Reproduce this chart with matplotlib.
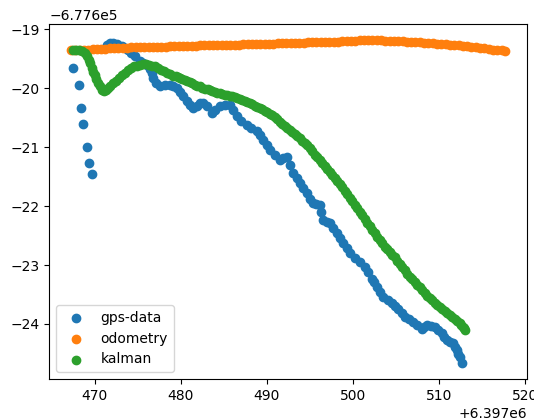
import numpy as np
import matplotlib
matplotlib.use('Agg')
import matplotlib.pyplot as plt

# 坐标偏移 (UTM)
X_OFFSET = 6397000.0
Y_OFFSET = -677600.0

# gps 数据
gps_x = [467.50, 468.20, 468.36, 468.66, 469.09, 469.29, 469.71,
         471.38, 471.77, 472.15, 472.58, 473.12, 473.51, 473.86, 474.20, 474.67, 475.25,
         475.60, 476.03, 476.41, 476.64, 476.79, 477.11, 477.57, 478.15, 478.73, 479.14,
         479.51, 479.90, 480.28, 480.67, 481.06, 481.44, 481.87, 482.22, 482.60, 483.03,
         483.58, 483.96, 484.54, 485.12, 485.70, 486.09, 486.48, 486.98, 487.64, 488.14,
         488.80, 489.19, 489.57, 489.96, 490.35, 490.93, 491.51, 491.89, 492.29, 492.67,
         493.05, 493.45, 493.83, 494.22, 494.61, 494.99, 495.38, 495.69, 496.16, 496.27,
         496.54, 496.93, 497.32, 497.70, 498.09, 498.48, 498.86, 499.26, 499.64, 500.22,
         500.80, 501.38, 501.76, 502.16, 502.43, 502.74, 503.12, 503.51, 504.00, 504.48,
         504.87, 505.25, 505.64, 506.03, 506.49, 506.99, 507.48, 507.97, 508.23, 508.55,
         509.05, 509.51, 509.89, 510.29, 510.56, 510.87, 511.25, 511.64, 511.83, 512.03,
         512.22, 512.41, 512.65]
gps_y = [-19.66, -19.94, -20.33, -20.61, -20.99, -21.27, -21.45,
         -19.26, -19.24, -19.23, -19.25, -19.29, -19.32, -19.35, -19.40, -19.46, -19.54,
         -19.57, -19.60, -19.67, -19.75, -19.82, -19.91, -19.97, -19.95, -19.94, -19.97,
         -20.00, -20.06, -20.14, -20.21, -20.28, -20.34, -20.30, -20.26, -20.25, -20.31,
         -20.42, -20.37, -20.31, -20.29, -20.28, -20.37, -20.48, -20.55, -20.62, -20.67,
         -20.73, -20.79, -20.88, -20.96, -21.05, -21.13, -21.22, -21.18, -21.16, -21.30,
         -21.44, -21.52, -21.61, -21.69, -21.78, -21.88, -21.95, -21.96, -21.98, -22.10,
         -22.24, -22.27, -22.29, -22.37, -22.46, -22.54, -22.63, -22.71, -22.80, -22.88,
         -22.95, -23.03, -23.12, -23.23, -23.29, -23.37, -23.45, -23.54, -23.60, -23.65,
         -23.70, -23.74, -23.81, -23.88, -23.92, -23.97, -24.02, -24.08, -24.05, -24.02,
         -24.04, -24.05, -24.11, -24.16, -24.22, -24.28, -24.30, -24.33, -24.39, -24.45,
         -24.51, -24.56, -24.66]

# 里程计
odom_x = [467.25, 467.75, 468.25, 468.75, 469.25, 469.75, 470.25, 470.75, 471.25, 471.75,
          472.25, 472.75, 473.25, 473.75, 474.25, 474.75, 475.25, 475.75, 476.25, 476.75,
          477.25, 477.75, 478.25, 478.75, 479.25, 479.75, 480.25, 480.75, 481.25, 481.75,
          482.25, 482.75, 483.25, 483.75, 484.25, 484.75, 485.25, 485.75, 486.25, 486.75,
          487.25, 487.75, 488.25, 488.75, 489.25, 489.75, 490.25, 490.75, 491.25, 491.75,
          492.25, 492.75, 493.25, 493.75, 494.25, 494.75, 495.25, 495.75, 496.25, 496.75,
          497.25, 497.75, 498.25, 498.75, 499.25, 499.75, 500.25, 500.75, 501.25, 501.75,
          502.25, 502.75, 503.25, 503.75, 504.25, 504.75, 505.25, 505.75, 506.25, 506.75,
          507.25, 507.75, 508.25, 508.75, 509.25, 509.75, 510.25, 510.75, 511.25, 511.75,
          512.25, 512.75, 513.25, 513.75, 514.25, 514.75, 515.25, 515.75, 516.25, 516.75,
          517.25, 517.64]
odom_y = [-19.360, -19.360, -19.355, -19.350, -19.345, -19.340, -19.335, -19.330, -19.330, -19.325,
          -19.320, -19.320, -19.315, -19.315, -19.310, -19.310, -19.305, -19.305, -19.300, -19.300,
          -19.300, -19.295, -19.295, -19.290, -19.290, -19.285, -19.285, -19.280, -19.280, -19.280,
          -19.275, -19.275, -19.270, -19.270, -19.270, -19.265, -19.265, -19.260, -19.260, -19.260,
          -19.255, -19.255, -19.250, -19.250, -19.250, -19.245, -19.245, -19.245, -19.240, -19.240,
          -19.240, -19.235, -19.235, -19.230, -19.230, -19.225, -19.225, -19.220, -19.220, -19.215,
          -19.215, -19.210, -19.210, -19.205, -19.200, -19.200, -19.195, -19.190, -19.190, -19.190,
          -19.190, -19.190, -19.190, -19.195, -19.195, -19.200, -19.200, -19.205, -19.210, -19.215,
          -19.220, -19.225, -19.230, -19.235, -19.240, -19.245, -19.250, -19.255, -19.260, -19.270,
          -19.275, -19.285, -19.290, -19.300, -19.310, -19.320, -19.325, -19.335, -19.345, -19.355,
          -19.360, -19.370]

# 卡尔曼滤波
kalman_x = [467.47, 467.82, 468.16, 468.51, 468.86, 469.09, 469.32, 469.50, 469.67, 469.85,
            470.02, 470.20, 470.37, 470.60, 470.84, 471.07, 471.30, 471.53, 471.77, 472.11,
            472.46, 472.81, 473.16, 473.51, 473.86, 474.20, 474.55, 474.90, 475.25, 475.60,
            475.95, 476.29, 476.64, 476.99, 477.34, 477.69, 478.04, 478.38, 478.73, 479.08,
            479.43, 479.67, 479.90, 480.19, 480.48, 480.77, 481.06, 481.35, 481.64, 481.93,
            482.22, 482.51, 482.81, 483.10, 483.38, 483.67, 483.96, 484.25, 484.54, 484.83,
            485.12, 485.41, 485.71, 486.00, 486.29, 486.58, 486.87, 487.16, 487.45, 487.74,
            488.03, 488.32, 488.61, 488.90, 489.19, 489.48, 489.77, 490.06, 490.35, 490.64,
            490.93, 491.22, 491.51, 491.80, 492.09, 492.38, 492.67, 492.96, 493.25, 493.54,
            493.83, 494.12, 494.41, 494.70, 494.99, 495.28, 495.57, 495.86, 496.15, 496.44,
            496.73, 497.02, 497.31, 497.60, 497.89, 498.18, 498.47, 498.76, 499.05, 499.35,
            499.64, 499.93, 500.22, 500.51, 500.80, 501.09, 501.38, 501.67, 501.96, 502.25,
            502.54, 502.83, 503.12, 503.41, 503.70, 503.99, 504.28, 504.57, 504.86, 505.15,
            505.45, 505.74, 506.03, 506.32, 506.61, 506.90, 507.19, 507.48, 507.77, 508.06,
            508.35, 508.64, 508.93, 509.22, 509.51, 509.80, 510.09, 510.38, 510.67, 510.96,
            511.25, 511.54, 511.83, 512.12, 512.41, 512.58, 512.76, 512.88, 513.00]
kalman_y = [-19.36, -19.36, -19.36, -19.37, -19.40, -19.45, -19.52, -19.58, -19.65, -19.72,
            -19.77, -19.84, -19.91, -19.97, -20.03, -20.04, -20.03, -19.99, -19.96, -19.91,
            -19.87, -19.82, -19.78, -19.74, -19.69, -19.66, -19.63, -19.62, -19.60, -19.59,
            -19.59, -19.60, -19.62, -19.63, -19.66, -19.69, -19.71, -19.74, -19.76, -19.79,
            -19.80, -19.81, -19.82, -19.84, -19.86, -19.88, -19.90, -19.92, -19.94, -19.955,
            -19.97, -19.99, -20.01, -20.02, -20.03, -20.045, -20.06, -20.075, -20.09, -20.10,
            -20.11, -20.12, -20.13, -20.14, -20.15, -20.165, -20.18, -20.195, -20.21, -20.23,
            -20.25, -20.275, -20.30, -20.32, -20.34, -20.36, -20.38, -20.405, -20.43, -20.46,
            -20.49, -20.53, -20.57, -20.605, -20.64, -20.675, -20.71, -20.74, -20.77, -20.81,
            -20.85, -20.89, -20.93, -20.97, -21.01, -21.07, -21.13, -21.175, -21.22, -21.27,
            -21.32, -21.37, -21.42, -21.47, -21.52, -21.57, -21.62, -21.68, -21.74, -21.80,
            -21.86, -21.92, -21.98, -22.04, -22.10, -22.16, -22.22, -22.28, -22.34, -22.40,
            -22.46, -22.52, -22.58, -22.635, -22.69, -22.735, -22.78, -22.825, -22.87, -22.925,
            -22.98, -23.035, -23.09, -23.145, -23.20, -23.245, -23.29, -23.335, -23.38, -23.43,
            -23.48, -23.52, -23.56, -23.60, -23.64, -23.68, -23.72, -23.75, -23.78, -23.815,
            -23.85, -23.885, -23.92, -23.955, -23.99, -24.02, -24.05, -24.075, -24.10]


fig = plt.figure(figsize=(5.34, 4.19), dpi=100)
fig.subplots_adjust(left=0.0923, right=0.9863, top=0.942, bottom=0.0955)
ax = fig.add_subplot(111)

ax.scatter(X_OFFSET + np.array(gps_x), Y_OFFSET + np.array(gps_y), label='gps-data')
ax.scatter(X_OFFSET + np.array(odom_x), Y_OFFSET + np.array(odom_y), label='odometry')
ax.scatter(X_OFFSET + np.array(kalman_x), Y_OFFSET + np.array(kalman_y), label='kalman')
ax.legend(loc='lower left')

fig.savefig('out.png', dpi=100)
